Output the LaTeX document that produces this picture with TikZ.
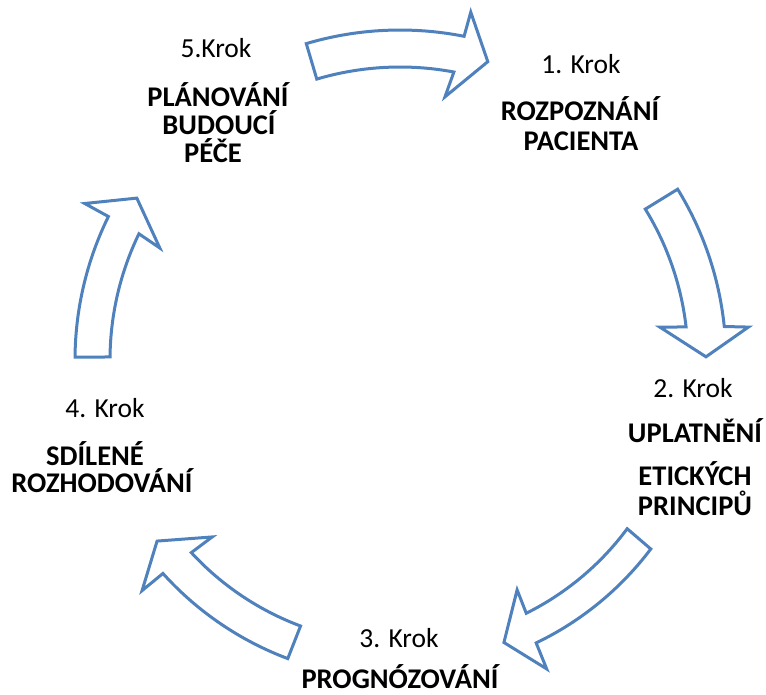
\documentclass[tikz,border=0pt]{standalone}
\usepackage{fontspec}
\setmainfont{Carlito}
\usepackage{tikz}
\definecolor{arrowblue}{RGB}{79,129,189}
\tikzset{
	blockarrow/.style={draw=arrowblue, line width=3pt, fill=white, line join=miter},
	krok/.style={anchor=base, inner sep=0pt, font=\fontsize{27.5}{33}\selectfont},
	nazev/.style={anchor=base, inner sep=0pt, font=\fontsize{28.5}{34}\selectfont\bfseries}
}

\begin{document}
\begin{tikzpicture}[x=1pt, y=-1pt]
		%%%%% START %%%%%
		\useasboundingbox (0, 0) rectangle (766, 694);
		
		% arrows of the cycle, polar round the middle
		\begin{scope}[shift={(400, 360)}]
			\draw[blockarrow] (-106.5:330) arc[start angle=-106.5, end angle=-78.8, radius=330] -- (-78.5:355) -- (-73.6:311) -- (-80.3:267) -- (-79.4:293) arc[start angle=-79.4, end angle=-106.5, radius=293] -- cycle;
			\draw[blockarrow] (-31.6:326) arc[start angle=-31.6, end angle=-5.9, radius=326] -- (-5.4:350) -- (-0.6:306) -- (-7.2:262) -- (-6.6:288) arc[start angle=-6.6, end angle=-31.6, radius=288] -- cycle;
			\draw[blockarrow] (37:314) arc[start angle=37, end angle=64.3, radius=314] -- (64.6:342) -- (69.8:301) -- (63:258) -- (63.5:283) arc[start angle=63.5, end angle=36.6, radius=283] -- cycle;
			\draw[blockarrow] (110.6:319) arc[start angle=110.6, end angle=138, radius=319] -- (138.2:346) -- (143.3:303) -- (136.7:258) -- (137.3:284) arc[start angle=137.3, end angle=110.5, radius=284] -- cycle;
			\draw[blockarrow] (180.5:325) arc[start angle=180.5, end angle=206.2, radius=325] -- (206.4:352) -- (211.6:309) -- (205:265) -- (205.8:290) arc[start angle=205.8, end angle=180.6, radius=290] -- cycle;
		\end{scope}
		
		% step 1
		\node[krok] (k1) at (581, 73) {1. Krok};
		\node[nazev] (n1a) at (580, 120) {ROZPOZNÁNÍ};
		\node[nazev] (n1b) at (581, 150) {PACIENTA};
		
		% step 2
		\node[krok] (k2) at (693, 397) {2. Krok};
		\node[nazev] (n2a) at (695, 442) {UPLATNĚNÍ};
		\node[nazev] (n2b) at (695, 485) {ETICKÝCH};
		\node[nazev] (n2c) at (695, 515) {PRINCIPŮ};
		
		% step 3
		\node[krok] (k3) at (399, 647) {3. Krok};
		\node[nazev] (n3a) at (400, 688) {PROGNÓZOVÁNÍ};
		
		% step 4
		\node[krok] (k4) at (105, 417) {4. Krok};
		\node[nazev] (n4a) at (95, 465) {SDÍLENÉ};
		\node[nazev] (n4b) at (102, 492) {ROZHODOVÁNÍ};
		
		% step 5
		\node[krok] (k5) at (216, 57) {5.Krok};
		\node[nazev] (n5a) at (218, 106) {PLÁNOVÁNÍ};
		\node[nazev] (n5b) at (219, 134) {BUDOUCÍ};
		\node[nazev] (n5c) at (213, 162) {PÉČE};
		%%%%% END %%%%%
	\end{tikzpicture}
\end{document}
